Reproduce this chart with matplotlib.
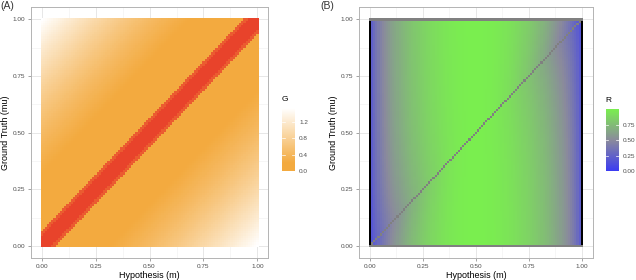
import numpy as np
import matplotlib
matplotlib.use("Agg")
import matplotlib.pyplot as plt
from matplotlib.colors import LinearSegmentedColormap, Normalize

plt.rcParams['font.family'] = ['Liberation Sans', 'DejaVu Sans']

# grid of hypothesis (m) and ground truth (mu) values, step 0.01
m_vals = np.round(np.arange(0, 101) / 100, 2)
mu_vals = np.round(np.arange(0, 101) / 100, 2)

g_ticks = [0.0, 0.4, 0.8, 1.2]
g_max = 1.53
r_ticks = [0.0, 0.25, 0.50, 0.75]
axis_ticks = [0.0, 0.25, 0.50, 0.75, 1.0]
axis_labels = ["0.00", "0.25", "0.50", "0.75", "1.00"]

M, MU = np.meshgrid(m_vals, mu_vals)
D = np.abs(M - MU)

# G grows with distance from the diagonal
G = g_max * D ** 1.75

# R is mostly a function of m, lower near the ends of the diagonal
R = np.sin(np.pi * M) ** 0.42 * (1 - 0.35 * np.exp(-D / 0.3) * (1 - np.sin(np.pi * M)))
R = R.astype(float)
R[:, 0] = -1.0
R[:, -1] = -1.0
R[D < 1e-9] = np.nan
R[0, :] = np.nan
R[-1, :] = np.nan

g_cmap = LinearSegmentedColormap.from_list(
    "g", [(0.0, "#E8432B"), (0.003, "#E8432B"), (0.007, "#F3AA3F"),
          (0.13, "#F3AA3F"), (1.0, "#FFFFFF")])
r_cmap = LinearSegmentedColormap.from_list(
    "r", [(0.0, "#3B3BF2"), (0.5, "#8A8A9C"), (1.0, "#7AEE4F")])
r_cmap.set_bad("#808080")
r_cmap.set_under("#000000")

fig = plt.figure(figsize=(6.36, 2.8), dpi=100)

def style_axes(ax, xlim):
    ax.set_xlim(*xlim)
    ax.set_ylim(-0.055, 1.055)
    ax.set_xticks(axis_ticks)
    ax.set_xticklabels(axis_labels)
    ax.set_yticks(axis_ticks)
    ax.set_yticklabels(axis_labels)
    ax.set_xticks([0.125, 0.375, 0.625, 0.875], minor=True)
    ax.set_yticks([0.125, 0.375, 0.625, 0.875], minor=True)
    ax.grid(True, which="major", color="#E3E3E3", lw=0.6)
    ax.grid(True, which="minor", color="#F0F0F0", lw=0.4)
    ax.set_axisbelow(True)
    ax.tick_params(which="minor", length=0)
    ax.tick_params(which="major", length=2.5, width=0.5, color="#7F7F7F",
                   labelsize=4.6, labelcolor="#4D4D4D", pad=1.5)
    for s in ax.spines.values():
        s.set_color("#B3B3B3")
        s.set_linewidth(0.7)
    ax.set_xlabel("Hypothesis (m)", fontsize=6.5, labelpad=1.5)
    ax.set_ylabel("Ground Truth (mu)", fontsize=6.5, labelpad=2)

def style_cbar(cax, cb, ticks, labels, title):
    cb.outline.set_visible(False)
    cb.set_ticks(ticks)
    cb.set_ticklabels(labels)
    cax.tick_params(length=0, labelsize=4.6, labelcolor="#4D4D4D", pad=3)
    lo, hi = cax.get_xlim()
    for t in ticks:
        cax.plot([lo, lo + (hi - lo) * 0.2], [t, t], color="white", lw=0.5)
        cax.plot([hi - (hi - lo) * 0.2, hi], [t, t], color="white", lw=0.5)
    cax.set_title(title, fontsize=6, loc="left", pad=5)

# panel A
ax1 = fig.add_axes([0.0483, 0.0775, 0.3736, 0.8975])
im1 = ax1.pcolormesh(m_vals, mu_vals, G, shading="nearest", cmap=g_cmap,
                     norm=Normalize(0, g_max), zorder=1, antialiased=False,
                     linewidth=0, rasterized=True)
style_axes(ax1, (-0.0505, 1.0505))
cax1 = fig.add_axes([0.4434, 0.389, 0.0204, 0.225])
cb1 = fig.colorbar(im1, cax=cax1)
style_cbar(cax1, cb1, g_ticks, ["0.0", "0.4", "0.8", "1.2"], "G")
fig.text(0.0, 0.995, "(A)", fontsize=7.5, va="top", ha="left", color="#333333")

# panel B
ax2 = fig.add_axes([0.5645, 0.0775, 0.3674, 0.8975])
im2 = ax2.pcolormesh(m_vals, mu_vals, R, shading="nearest", cmap=r_cmap,
                     norm=Normalize(0, np.nanmax(R)), zorder=1, antialiased=False,
                     linewidth=0, rasterized=True)
style_axes(ax2, (-0.052, 1.052))
cax2 = fig.add_axes([0.9524, 0.389, 0.0209, 0.221])
cb2 = fig.colorbar(im2, cax=cax2)
style_cbar(cax2, cb2, r_ticks, ["0.00", "0.25", "0.50", "0.75"], "R")
fig.text(0.503, 0.995, "(B)", fontsize=7.5, va="top", ha="left", color="#333333")

fig.savefig("out.png", dpi=100)
